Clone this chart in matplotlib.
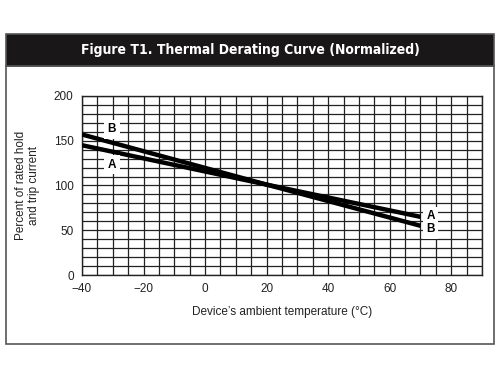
import matplotlib
matplotlib.use("Agg")
import matplotlib.pyplot as plt
from matplotlib.patches import Rectangle

plt.rcParams['font.family'] = ['Liberation Sans', 'DejaVu Sans']

# Data
temp_a = [-40, 20, 70]
pct_a = [145, 101, 65]
temp_b = [-40, 20, 70]
pct_b = [157, 101, 55]
x_ticks = [-40, -20, 0, 20, 40, 60, 80]
y_ticks = [0, 50, 100, 150, 200]

title = "Figure T1. Thermal Derating Curve (Normalized)"

fig = plt.figure(figsize=(5.0, 3.76), dpi=100)
fig.patch.set_facecolor("white")

# Outer frame and black header bar
fig.patches.append(Rectangle((0.012, 0.0851), 0.976, 0.8245 - 0.0851,
                             transform=fig.transFigure, facecolor="white",
                             edgecolor="#555555", linewidth=1.2, zorder=0))
fig.patches.append(Rectangle((0.012, 0.8245), 0.976, 0.9096 - 0.8245,
                             transform=fig.transFigure, facecolor="#1a1718",
                             edgecolor="#555555", linewidth=1.2, zorder=0))
fig.text(0.5, 0.867, title, ha="center", va="center", color="white",
         fontsize=10, fontweight="bold", fontstretch="condensed",
         family=["DejaVu Sans"])

ax = fig.add_axes([0.164, 0.2686, 0.8, 0.4761])
ax.set_zorder(2)
ax.set_xlim(-40, 90)
ax.set_ylim(0, 200)

# grid: every 5 degrees, every 10 percent
for gx in range(-40, 91, 5):
    ax.axvline(gx, color="#222222", linewidth=0.9, zorder=1)
for gy in range(0, 201, 10):
    ax.axhline(gy, color="#222222", linewidth=0.9, zorder=1)

ax.plot(temp_a, pct_a, color="black", linewidth=3.2, solid_capstyle="butt", zorder=3)
ax.plot(temp_b, pct_b, color="black", linewidth=3.2, solid_capstyle="butt", zorder=3)

box = dict(facecolor="white", edgecolor="none", pad=2.5)
lbl = dict(ha="center", va="center", fontsize=8.5, fontweight="bold", zorder=4, bbox=box)
ax.text(-30.3, 163, "B", **lbl)
ax.text(-30.3, 123, "A", **lbl)
ax.text(73.3, 66, "A", **lbl)
ax.text(73.3, 51, "B", **lbl)

ax.set_xticks(x_ticks)
ax.set_yticks(y_ticks)
ax.tick_params(length=0, labelsize=8.5, colors="#222222")
ax.tick_params(axis="x", pad=6)
ax.tick_params(axis="y", pad=6)
for s in ax.spines.values():
    s.set_linewidth(1.0)
    s.set_color("#222222")

ax.set_xlabel("Device’s ambient temperature (°C)", fontsize=8.5, color="#222222", labelpad=8)
ax.set_ylabel("Percent of rated hold\nand trip current", fontsize=8.5, color="#222222",
              labelpad=10, linespacing=1.1)

fig.savefig("out.png", dpi=100)
